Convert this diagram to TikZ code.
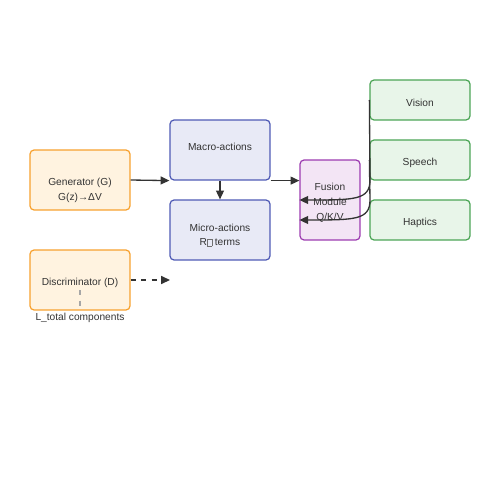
\documentclass[tikz,border=0pt]{standalone}
\usepackage{fontspec}
\setmainfont{Liberation Sans}
\usetikzlibrary{arrows.meta}

\definecolor{orangeline}{HTML}{F7A12E}
\definecolor{orangefill}{HTML}{FFF3E0}
\definecolor{blueline}{HTML}{4F5BB5}
\definecolor{bluefill}{HTML}{E8EAF6}
\definecolor{purpleline}{HTML}{9C3CB0}
\definecolor{purplefill}{HTML}{F3E5F5}
\definecolor{greenline}{HTML}{4CA556}
\definecolor{greenfill}{HTML}{E8F5E9}
\definecolor{textgrey}{HTML}{333333}
\definecolor{linegrey}{HTML}{333333}

\newcommand{\tofu}{{\setlength{\fboxsep}{0pt}\setlength{\fboxrule}{0.2pt}\color{textgrey!70}\fbox{\rule{0pt}{0.62em}\hspace{0.42em}}}}

\begin{document}
\begin{tikzpicture}[x=0.02cm, y=-0.02cm,
    box/.style={rectangle, draw, rounded corners=2.3pt, line width=0.7pt, inner sep=0pt},
    genbox/.style={box, draw=orangeline, fill=orangefill, minimum width=2cm, minimum height=1.2cm},
    actbox/.style={box, draw=blueline, fill=bluefill, minimum width=2cm, minimum height=1.2cm},
    fusebox/.style={box, draw=purpleline, fill=purplefill, minimum width=1.2cm, minimum height=1.6cm},
    modbox/.style={box, draw=greenline, fill=greenfill, minimum width=2cm, minimum height=0.8cm},
    txt/.style={font=\fontsize{5.8}{8.5}\selectfont, text=textgrey, align=center, inner sep=0pt},
    arr/.style={-{Triangle[length=5pt,width=4.5pt]}, draw=linegrey, line width=0.75pt}]
    \useasboundingbox (0,0) rectangle (500,500);

    % generator and discriminator
    \draw (80,180) node[genbox] (gen) {} ++(0,10.5) node[txt] {Generator (G)\\G(z)→ΔV};
    \draw (80,280) node[genbox] (disc) {} ++(0,3) node[txt] {Discriminator (D)};
    \draw (80,318) node[txt] (ltot) {L\_total components};
    \draw[dashed, gray!70, line width=0.6pt] (80,290) -- (disc.south);

    % actions
    \draw (220,150) node[actbox] (macro) {} ++(0,-3) node[txt] {Macro-actions};
    \draw (220,230) node[actbox] (micro) {} ++(0,5) node[txt] {Micro-actions\\R\tofu{} terms};

    % fusion and modalities
    \draw (330,200) node[fusebox] (fusion) {} ++(0,3) node[txt] {Fusion\\Module\\Q/K/V};
    \draw (420,100) node[modbox] (vision) {} ++(0,2.5) node[txt] {Vision};
    \draw (420,160) node[modbox] (speech) {} ++(0,2.5) node[txt] {Speech};
    \draw (420,220) node[modbox] (haptics) {} ++(0,2.5) node[txt] {Haptics};

    \draw[arr] (gen.east) -- (macro.south west);
    \draw[arr] (macro.south) -- (micro.north);
    \draw[arr] (macro.south east) -- (fusion.west |- macro.south east);
    \coordinate (discend) at (170,280);
    \draw[arr, dashed] (disc.east) -- (discend);
    \draw[arr] (vision.west) -- (370,180) .. controls (370,200) and (355,200) .. (fusion.west);
    \draw[arr] (speech.west) -- (370,200) .. controls (370,220) and (355,220) .. ([yshift=-0.4cm]fusion.west);
\end{tikzpicture}
\end{document}
